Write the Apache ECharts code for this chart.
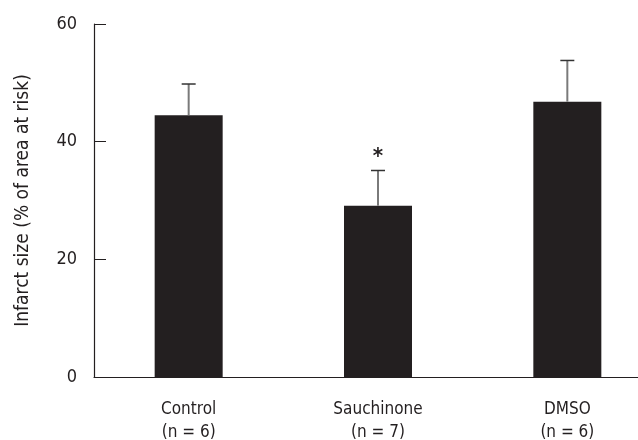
<!DOCTYPE html>
<html>
<head>
<meta charset="utf-8">
<script src="https://cdn.jsdelivr.net/npm/echarts@6/dist/echarts.min.js"></script>
<style>
  html, body { margin: 0; padding: 0; background: #fff; }
  #chart { width: 638px; height: 440px; }
</style>
</head>
<body>
<div id="chart"></div>
<script>
const groups = ["Control", "Sauchinone", "DMSO"];
const sampleSizes = ["(n = 6)", "(n = 7)", "(n = 6)"];
const means = [44.5, 29.1, 46.8];
const errors = [5.3, 6.0, 7.0];
const marks = ["", "*", ""];
const yTicks = [0, 20, 40, 60];

const FONT = '"DejaVu Sans Condensed", "Liberation Sans", sans-serif';
const INK = "#231f20";

const chart = echarts.init(document.getElementById("chart"));

// error bars + significance star drawn from the same data
const errorData = groups.map((g, i) => [i, means[i], means[i] + errors[i], marks[i]]);

const option = {
  animation: false,
  // the plot runs past the right edge of the picture, as in the original figure
  grid: { left: 94, width: 568, top: 24, bottom: 63, outerBoundsMode: "none" },
  xAxis: {
    type: "category",
    data: groups,
    axisLine: { lineStyle: { color: INK, width: 1.2 } },
    axisTick: { show: false },
    axisLabel: {
      color: INK,
      fontFamily: FONT,
      fontSize: 17,
      lineHeight: 23,
      margin: 21,
      formatter: (value, idx) => value + "\n" + sampleSizes[idx],
    },
  },
  yAxis: {
    type: "value",
    min: 0,
    max: 60,
    interval: 20,
    name: "Infarct size (% of area at risk)",
    nameLocation: "middle",
    nameGap: 61,
    nameTextStyle: { color: INK, fontFamily: FONT, fontSize: 19 },
    axisLine: { show: true, lineStyle: { color: INK, width: 1.2 } },
    axisTick: { show: true, inside: true, length: 12, lineStyle: { color: INK } },
    splitLine: { show: false },
    axisLabel: {
      color: INK,
      fontFamily: FONT,
      fontSize: 18,
      margin: 17,
      formatter: (v) => (yTicks.includes(v) ? String(v) : ""),
    },
  },
  series: [
    {
      type: "bar",
      data: means,
      barWidth: 68,
      itemStyle: { color: INK },
      z: 2,
    },
    {
      type: "custom",
      data: errorData,
      z: 3,
      renderItem: (params, api) => {
        const i = api.value(0);
        const base = api.coord([i, api.value(1)]);
        const top = api.coord([i, api.value(2)]);
        const children = [
          {
            type: "line",
            shape: { x1: base[0], y1: base[1], x2: top[0], y2: top[1] },
            style: { stroke: "#7a7a7a", lineWidth: 2 },
          },
          {
            type: "line",
            shape: { x1: top[0] - 7, y1: top[1], x2: top[0] + 7, y2: top[1] },
            style: { stroke: "#333", lineWidth: 1.5 },
          },
        ];
        const mark = errorData[params.dataIndex][3];
        if (mark) {
          children.push({
            type: "text",
            style: {
              text: mark,
              x: top[0],
              y: top[1] - 13,
              align: "center",
              verticalAlign: "middle",
              fontFamily: FONT,
              fontSize: 22,
              fontWeight: "bold",
              fill: INK,
            },
          });
        }
        return { type: "group", children };
      },
    },
  ],
};

chart.setOption(option);
</script>
</body>
</html>
